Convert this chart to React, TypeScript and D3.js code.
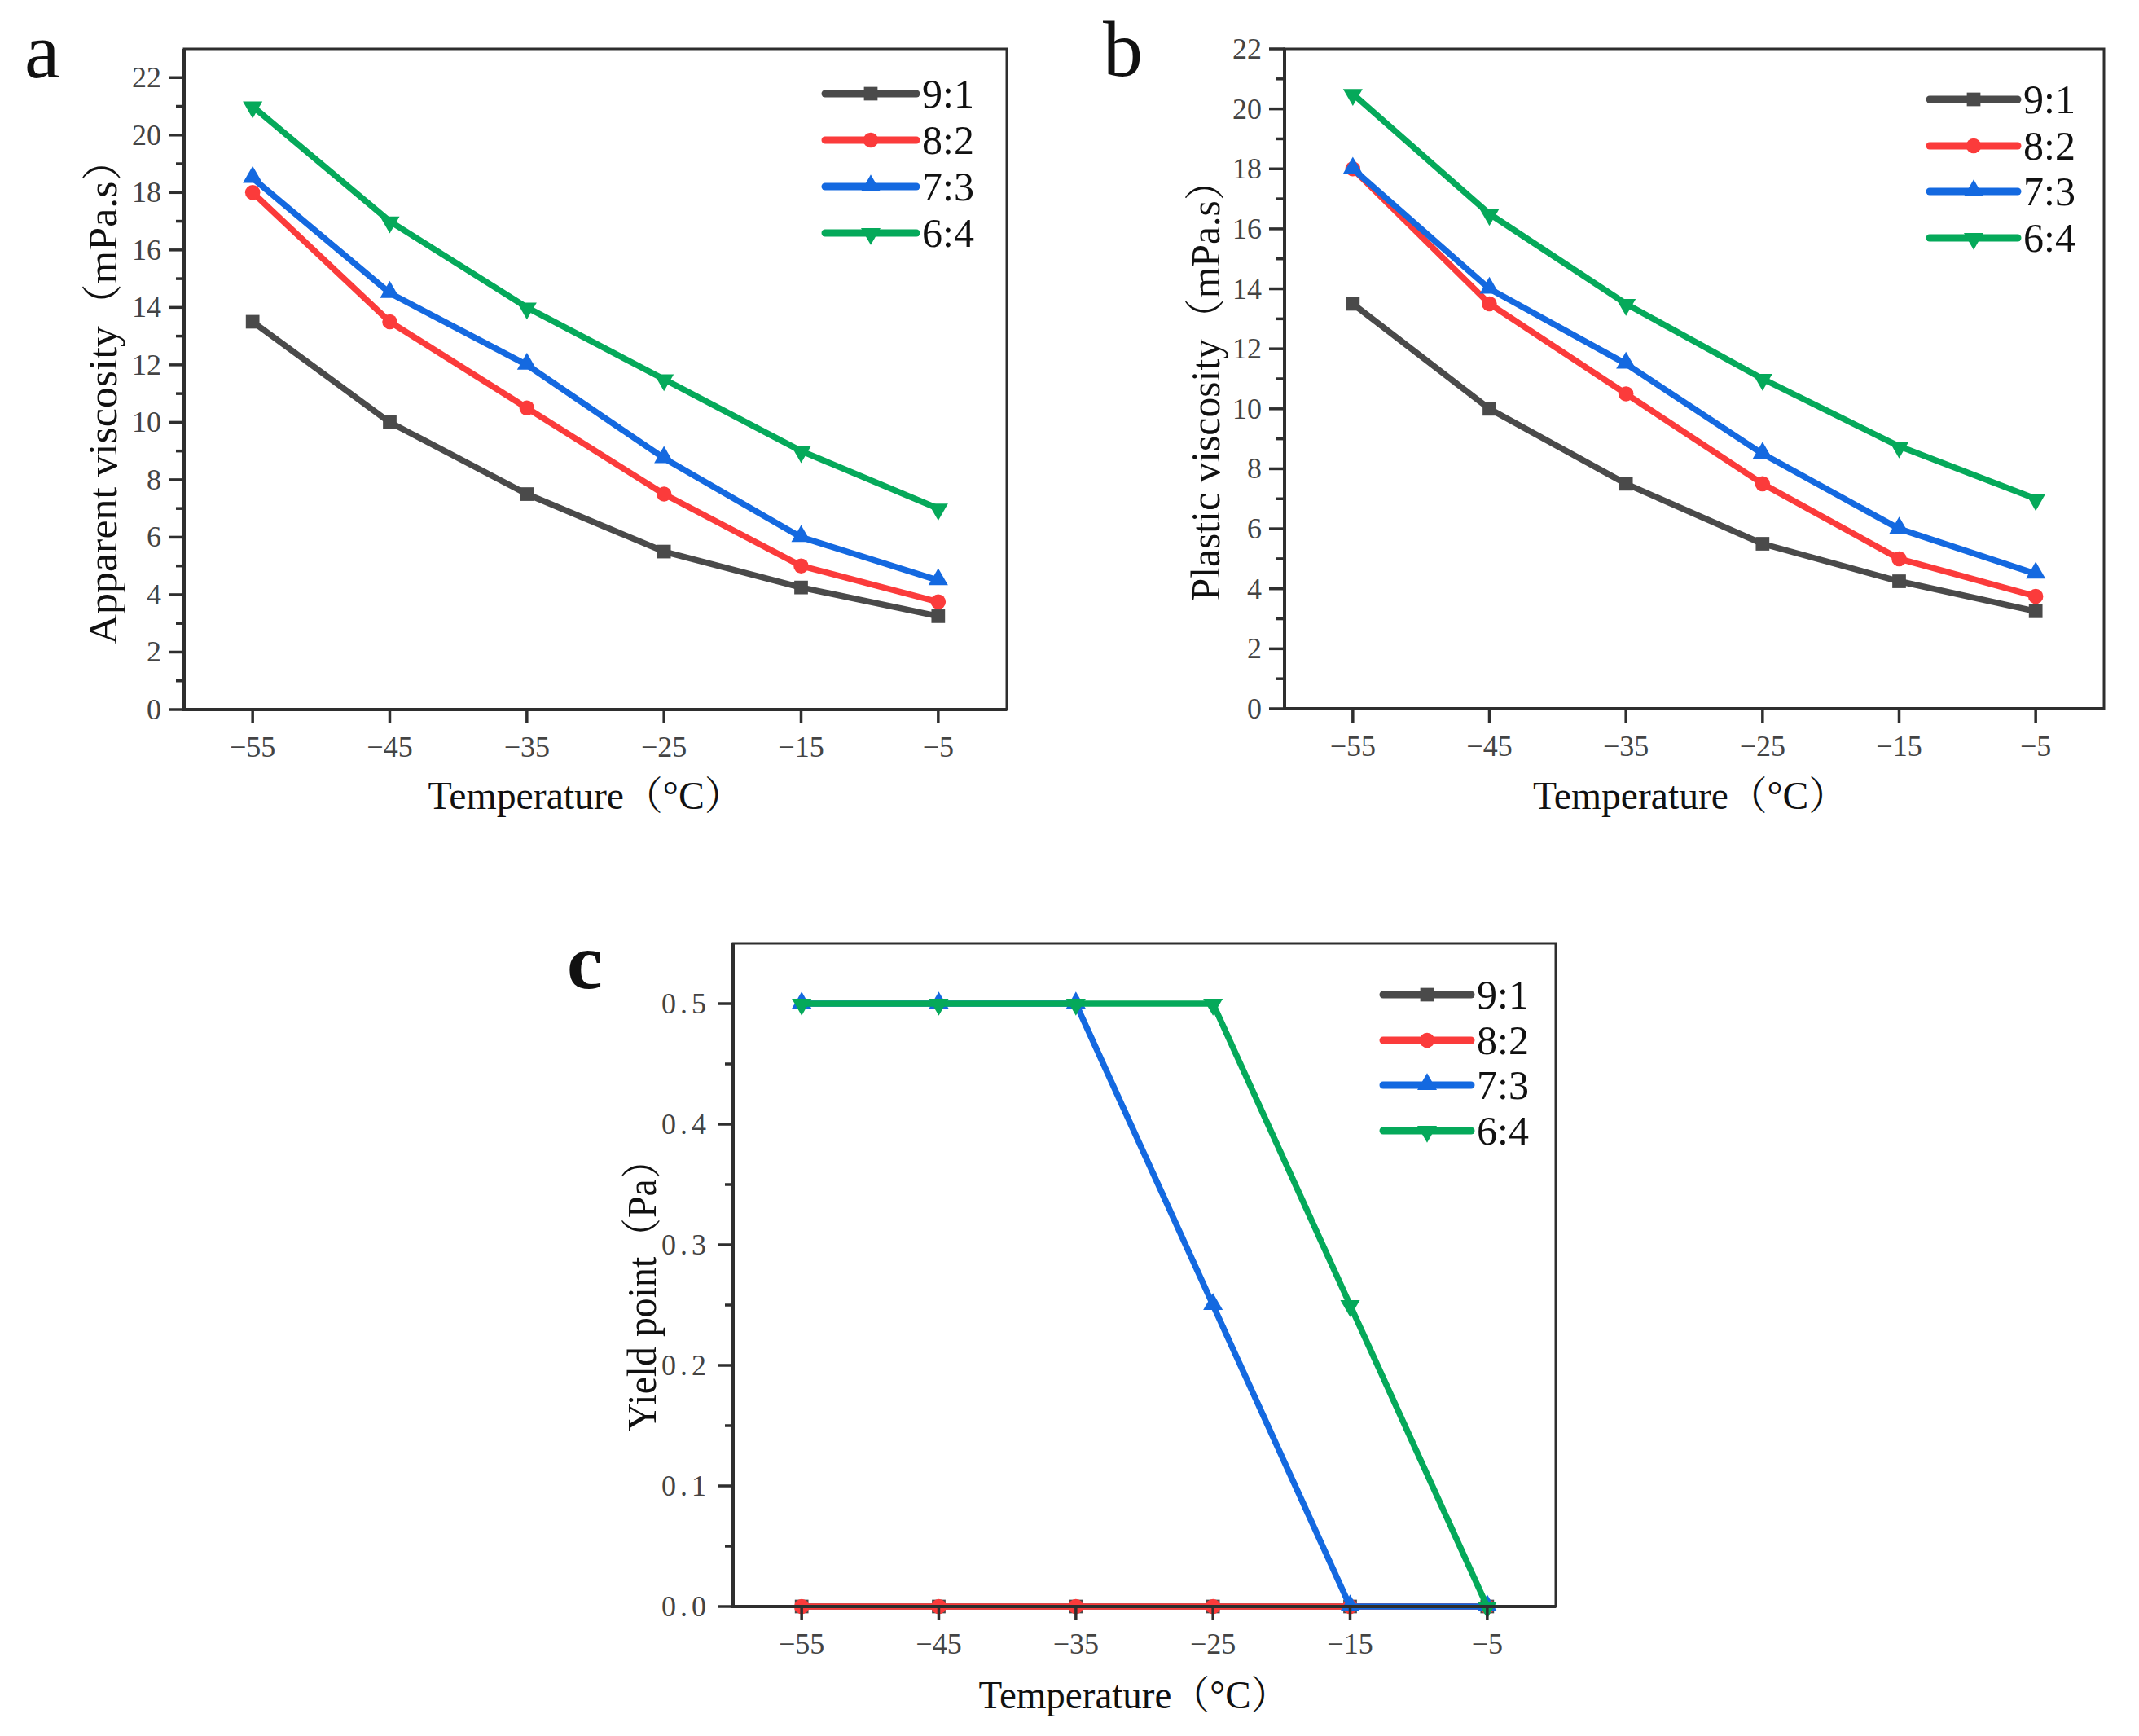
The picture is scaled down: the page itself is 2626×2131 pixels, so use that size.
import React from "react";
import * as d3 from "d3";

// ---------- data ----------
const temps = [-55, -45, -35, -25, -15, -5];
const seriesNames = ["9:1", "8:2", "7:3", "6:4"];
const seriesColors = ["#4a4a4a", "#fb3b3b", "#1469e0", "#05a95a"];
const seriesSymbols = ["square", "circle", "triUp", "triDown"];

// panel a: apparent viscosity (mPa.s)
const apparent91 = [13.5, 10, 7.5, 5.5, 4.25, 3.25];
const apparent82 = [18, 13.5, 10.5, 7.5, 5, 3.75];
const apparent73 = [18.5, 14.5, 12, 8.75, 6, 4.5];
const apparent64 = [21, 17, 14, 11.5, 9, 7];

// panel b: plastic viscosity (mPa.s)
const plastic91 = [13.5, 10, 7.5, 5.5, 4.25, 3.25];
const plastic82 = [18, 13.5, 10.5, 7.5, 5, 3.75];
const plastic73 = [18, 14, 11.5, 8.5, 6, 4.5];
const plastic64 = [20.5, 16.5, 13.5, 11, 8.75, 7];

// panel c: yield point (Pa)
const yield91 = [0, 0, 0, 0, 0, 0];
const yield82 = [0, 0, 0, 0, 0, 0];
const yield73 = [0.5, 0.5, 0.5, 0.25, 0, 0];
const yield64 = [0.5, 0.5, 0.5, 0.5, 0.25, 0];

const xTickLabels = ["-55", "-45", "-35", "-25", "-15", "-5"];
const viscTicks = [0, 2, 4, 6, 8, 10, 12, 14, 16, 18, 20, 22];
const yieldTicks = [0, 0.1, 0.2, 0.3, 0.4, 0.5];

const SERIF = "'Liberation Serif', 'Times New Roman', 'Noto Serif CJK SC', 'Noto Sans CJK SC', serif";

type PanelProps = {
  letter: string;
  letterPos: [number, number];
  letterWeight: string;
  box: { left: number; right: number; top: number; bottom: number };
  yMax: number;
  yTicks: number[];
  minorStep: number;
  yFmt: (v: number) => string;
  yLetterSpacing: number;
  series: number[][];
  yTitle: string;
  yTitlePos: [number, number, number]; // x baseline, center y, length
  xTitlePos: [number, number, number]; // center x, baseline y, length
  legend: { x1: number; x2: number; rows: number[] };
};

function symbolPath(kind: string): string {
  if (kind === "square") return d3.symbol(d3.symbolSquare, 280)() || "";
  if (kind === "circle") return d3.symbol(d3.symbolCircle, 270)() || "";
  return d3.symbol(d3.symbolTriangle, 250)() || "";
}

function Marker({ kind, x, y, color }: { kind: string; x: number; y: number; color: string }) {
  const rot = kind === "triDown" ? 180 : 0;
  const dy = kind === "triUp" ? -1 : kind === "triDown" ? 1 : 0;
  return (
    <path
      d={symbolPath(kind)}
      transform={`translate(${x},${y + dy}) rotate(${rot})`}
      fill={color}
      stroke="none"
    />
  );
}

function Panel(p: PanelProps) {
  const { box } = p;
  const x = d3.scaleLinear().domain([-60, 0]).range([box.left, box.right]);
  const y = d3.scaleLinear().domain([0, p.yMax]).range([box.bottom, box.top]);
  const line = d3
    .line<number>()
    .x((_, i) => x(temps[i]))
    .y((v) => y(v));

  const minor: number[] = [];
  for (let k = 0; k * p.minorStep <= p.yMax + 1e-9; k++) {
    const v = +(k * p.minorStep).toFixed(6);
    const isMajor = p.yTicks.some((t) => Math.abs(t - v) < 1e-9);
    if (!isMajor && v < p.yMax - 1e-9) minor.push(v);
  }

  const axisColor = "#2e2e2e";
  return (
    <g>
      <text
        x={p.letterPos[0]}
        y={p.letterPos[1]}
        fontFamily={SERIF}
        fontSize={98}
        fontWeight={p.letterWeight}
        fill="#111"
      >
        {p.letter}
      </text>

      {/* series */}
      {p.series.map((vals, si) => (
        <g key={si}>
          <path
            d={line(vals) || ""}
            fill="none"
            stroke={seriesColors[si]}
            strokeWidth={7.5}
            strokeLinejoin="round"
          />
          {vals.map((v, i) => (
            <Marker key={i} kind={seriesSymbols[si]} x={x(temps[i])} y={y(v)} color={seriesColors[si]} />
          ))}
        </g>
      ))}

      {/* frame */}
      <rect
        x={box.left}
        y={box.top}
        width={box.right - box.left}
        height={box.bottom - box.top}
        fill="none"
        stroke={axisColor}
        strokeWidth={3}
      />
      <line x1={box.left} x2={box.left} y1={box.top} y2={box.bottom + 2} stroke={axisColor} strokeWidth={4} />
      <line x1={box.left - 2} x2={box.right} y1={box.bottom} y2={box.bottom} stroke={axisColor} strokeWidth={4} />

      {/* y ticks */}
      {p.yTicks.map((t) => (
        <g key={"yt" + t}>
          <line x1={box.left - 19} x2={box.left} y1={y(t)} y2={y(t)} stroke={axisColor} strokeWidth={3.5} />
          <text
            x={box.left - 28}
            y={y(t) + 12}
            textAnchor="end"
            fontFamily={SERIF}
            fontSize={36}
            fill="#444"
            letterSpacing={p.yLetterSpacing}
          >
            {p.yFmt(t)}
          </text>
        </g>
      ))}
      {minor.map((t) => (
        <line key={"ym" + t} x1={box.left - 10} x2={box.left} y1={y(t)} y2={y(t)} stroke={axisColor} strokeWidth={3.5} />
      ))}

      {/* x ticks */}
      {temps.map((t, i) => (
        <g key={"xt" + t}>
          <line x1={x(t)} x2={x(t)} y1={box.bottom} y2={box.bottom + 17} stroke={axisColor} strokeWidth={3.5} />
          <text
            x={x(t)}
            y={box.bottom + 58}
            textAnchor="middle"
            fontFamily={SERIF}
            fontSize={36}
            fill="#444"
          >
            {xTickLabels[i].replace("-", "\u2212")}
          </text>
        </g>
      ))}

      {/* titles */}
      <text
        x={p.xTitlePos[0]}
        y={p.xTitlePos[1]}
        textAnchor="middle"
        fontFamily={SERIF}
        fontSize={48}
        fill="#111"
        textLength={p.xTitlePos[2]}
        lengthAdjust="spacingAndGlyphs"
      >
        Temperature（°C）
      </text>
      <text
        transform={`translate(${p.yTitlePos[0]},${p.yTitlePos[1]}) rotate(-90)`}
        textAnchor="middle"
        fontFamily={SERIF}
        fontSize={50}
        fill="#111"
        textLength={p.yTitlePos[2]}
        lengthAdjust="spacingAndGlyphs"
      >
        {p.yTitle}
      </text>

      {/* legend */}
      {seriesNames.map((name, si) => (
        <g key={"lg" + si}>
          <line
            x1={p.legend.x1}
            x2={p.legend.x2}
            y1={p.legend.rows[si]}
            y2={p.legend.rows[si]}
            stroke={seriesColors[si]}
            strokeWidth={9}
            strokeLinecap="round"
          />
          <Marker
            kind={seriesSymbols[si]}
            x={(p.legend.x1 + p.legend.x2) / 2}
            y={p.legend.rows[si]}
            color={seriesColors[si]}
          />
          <text
            x={p.legend.x2 + 7}
            y={p.legend.rows[si] + 17}
            fontFamily={SERIF}
            fontSize={50}
            fill="#111"
          >
            {name}
          </text>
        </g>
      ))}
    </g>
  );
}

export default function App() {
  return (
    <svg
      width={2626}
      height={2131}
      viewBox="0 0 2626 2131"
      style={{ position: "absolute", left: 0, top: 0, background: "#fff" }}
    >
      <rect x={0} y={0} width={2626} height={2131} fill="#fff" />
      <Panel
        letter="a"
        letterPos={[30, 95]}
        letterWeight="normal"
        box={{ left: 226, right: 1236, top: 60, bottom: 871 }}
        yMax={23}
        yTicks={viscTicks}
        minorStep={1}
        yFmt={(v) => String(v)}
        yLetterSpacing={0}
        series={[apparent91, apparent82, apparent73, apparent64]}
        yTitle="Apparent viscosity（mPa.s）"
        yTitlePos={[143, 481, 621]}
        xTitlePos={[719, 993, 387]}
        legend={{ x1: 1013, x2: 1125, rows: [115, 172, 229, 286] }}
      />
      <Panel
        letter="b"
        letterPos={[1354, 93]}
        letterWeight="normal"
        box={{ left: 1577, right: 2583, top: 60, bottom: 870 }}
        yMax={22}
        yTicks={viscTicks}
        minorStep={1}
        yFmt={(v) => String(v)}
        yLetterSpacing={0}
        series={[plastic91, plastic82, plastic73, plastic64]}
        yTitle="Plastic viscosity（mPa.s）"
        yTitlePos={[1497, 467, 541]}
        xTitlePos={[2075, 993, 386]}
        legend={{ x1: 2369, x2: 2477, rows: [122, 179, 235, 292] }}
      />
      <Panel
        letter="c"
        letterPos={[696, 1213]}
        letterWeight="bold"
        box={{ left: 900, right: 1910, top: 1158, bottom: 1972 }}
        yMax={0.55}
        yTicks={yieldTicks}
        minorStep={0.05}
        yFmt={(v) => v.toFixed(1)}
        yLetterSpacing={5}
        series={[yield91, yield82, yield73, yield64]}
        yTitle="Yield point（Pa）"
        yTitlePos={[805, 1578, 357]}
        xTitlePos={[1392, 2097, 381]}
        legend={{ x1: 1698, x2: 1806, rows: [1221, 1277, 1332, 1388] }}
      />
    </svg>
  );
}
